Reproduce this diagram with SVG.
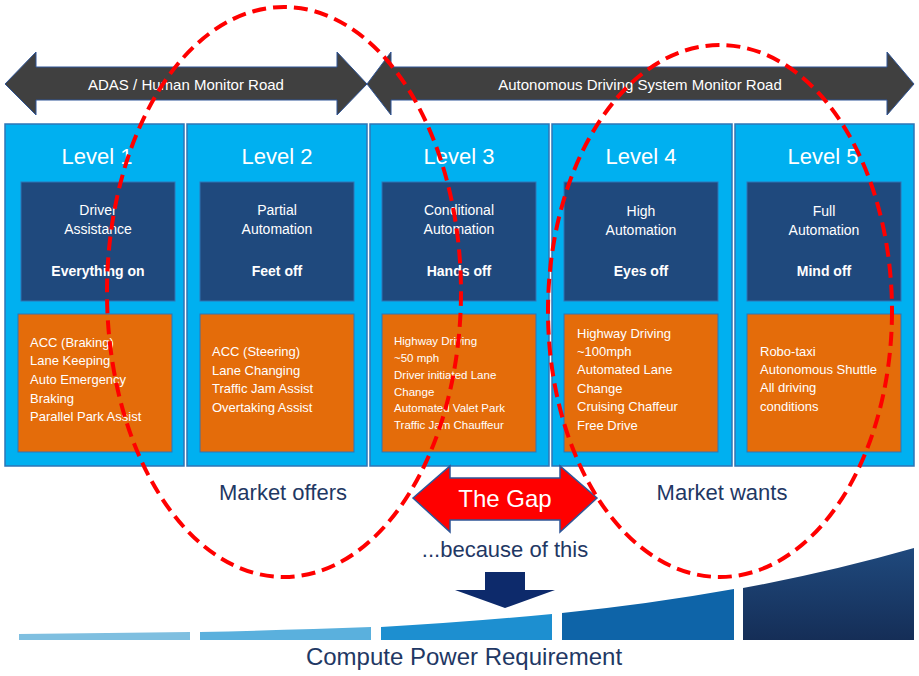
<svg xmlns="http://www.w3.org/2000/svg" width="919" height="676" viewBox="0 0 919 676">
<defs>
<style>
.col{fill:#00b0f0;stroke:#2e75b6;stroke-width:1.5}
.db{fill:#1f497d;stroke:#2e75b6;stroke-width:1}
.ob{fill:#e46c0a;stroke:#2e75b6;stroke-width:1}
.t{font-family:"Liberation Sans",Arial,sans-serif;fill:#fff}
.lv{font-size:22px;text-anchor:middle}
.dt{font-size:14px;text-anchor:middle}
.b{font-weight:bold}
.ot{font-size:13px}
.nv{font-family:"Liberation Sans",Arial,sans-serif;fill:#1f3864;text-anchor:middle}
.ell{fill:none;stroke:#ff0000;stroke-width:4;stroke-dasharray:14 7}
</style>
<linearGradient id="g5" x1="0" y1="0" x2="0" y2="1"><stop offset="0" stop-color="#1f497d"/><stop offset="1" stop-color="#152e57"/></linearGradient>
</defs>
<rect width="919" height="676" fill="#fff"/>
<g id="arrows-top">
<polygon points="5,84 36,52 36,67 337,67 337,52 367,84 337,115 337,100 36,100 36,115" fill="#404040" stroke="#2f5597" stroke-width="1"/>
<text class="t" x="186" y="90" font-size="15" text-anchor="middle">ADAS / Human Monitor Road</text>
<polygon points="367,84 391,52 391,67 887,67 887,52 914,84 887,115 887,100 391,100 391,115" fill="#404040" stroke="#2f5597" stroke-width="1"/>
<text class="t" x="640" y="90" font-size="15" text-anchor="middle">Autonomous Driving System Monitor Road</text>
</g>
<g id="level1">
<rect class="col" x="5" y="124" width="179" height="342"/>
<text class="t lv" x="97" y="164">Level 1</text>
<rect class="db" x="21" y="182" width="154" height="119"/>
<text class="t dt" x="98" y="215">Driver</text><text class="t dt" x="98" y="234">Assistance</text>
<text class="t dt b" x="98" y="276">Everything on</text>
<rect class="ob" x="18" y="314" width="154" height="138"/>
<text class="t ot" x="30" y="347">ACC (Braking)</text><text class="t ot" x="30" y="365">Lane Keeping</text><text class="t ot" x="30" y="384">Auto Emergency</text><text class="t ot" x="30" y="403">Braking</text><text class="t ot" x="30" y="421">Parallel Park Assist</text>
</g>
<g id="level2">
<rect class="col" x="187" y="124" width="180" height="342"/>
<text class="t lv" x="277" y="164">Level 2</text>
<rect class="db" x="200" y="182" width="154" height="119"/>
<text class="t dt" x="277" y="215">Partial</text><text class="t dt" x="277" y="234">Automation</text>
<text class="t dt b" x="277" y="276">Feet off</text>
<rect class="ob" x="200" y="314" width="154" height="138"/>
<text class="t ot" x="212" y="356">ACC (Steering)</text><text class="t ot" x="212" y="375">Lane Changing</text><text class="t ot" x="212" y="393">Traffic Jam Assist</text><text class="t ot" x="212" y="412">Overtaking Assist</text>
</g>
<g id="level3">
<rect class="col" x="370" y="124" width="179" height="342"/>
<text class="t lv" x="459" y="164">Level 3</text>
<rect class="db" x="382" y="182" width="154" height="119"/>
<text class="t dt" x="459" y="215">Conditional</text><text class="t dt" x="459" y="234">Automation</text>
<text class="t dt b" x="459" y="276">Hands off</text>
<rect class="ob" x="382" y="314" width="154" height="138"/>
<g class="t" font-size="11.5"><text x="394" y="345">Highway Driving</text><text x="394" y="362">~50 mph</text><text x="394" y="379">Driver initiated Lane</text><text x="394" y="396">Change</text><text x="394" y="412">Automated Valet Park</text><text x="394" y="429">Traffic Jam Chauffeur</text></g>
</g>
<g id="level4">
<rect class="col" x="552" y="124" width="180" height="342"/>
<text class="t lv" x="641" y="164">Level 4</text>
<rect class="db" x="564" y="182" width="154" height="119"/>
<text class="t dt" x="641" y="216">High</text><text class="t dt" x="641" y="235">Automation</text>
<text class="t dt b" x="641" y="276">Eyes off</text>
<rect class="ob" x="564" y="314" width="154" height="138"/>
<text class="t ot" x="577" y="338">Highway Driving</text><text class="t ot" x="577" y="356">~100mph</text><text class="t ot" x="577" y="374">Automated Lane</text><text class="t ot" x="577" y="393">Change</text><text class="t ot" x="577" y="411">Cruising Chaffeur</text><text class="t ot" x="577" y="430">Free Drive</text>
</g>
<g id="level5">
<rect class="col" x="735" y="124" width="179" height="342"/>
<text class="t lv" x="823" y="164">Level 5</text>
<rect class="db" x="747" y="182" width="154" height="119"/>
<text class="t dt" x="824" y="216">Full</text><text class="t dt" x="824" y="235">Automation</text>
<text class="t dt b" x="824" y="276">Mind off</text>
<rect class="ob" x="747" y="314" width="154" height="138"/>
<text class="t ot" x="760" y="356">Robo-taxi</text><text class="t ot" x="760" y="374">Autonomous Shuttle</text><text class="t ot" x="760" y="392">All driving</text><text class="t ot" x="760" y="411">conditions</text>
</g>
<g id="gap">
<polygon points="413,498 450,466 450,478 560,478 560,466 597,498 560,532 560,520 450,520 450,532" fill="#ff0000" stroke="#2f5597" stroke-width="1.5"/>
<text class="t" x="505" y="507" font-size="24" text-anchor="middle">The Gap</text>
</g>
<g id="labels">
<text class="nv" x="283" y="500" font-size="22">Market offers</text>
<text class="nv" x="722" y="500" font-size="22">Market wants</text>
<text class="nv" x="505" y="557" font-size="22">...because of this</text>
<text class="nv" x="464" y="665" font-size="24" fill="#0d2060">Compute Power Requirement</text>
</g>
<g id="compute">
<polygon points="455,590 485,590 485,572 525,572 525,590 555,590 505,608" fill="#0d2a6b"/>
<path d="M19,640 L19,634 Q110,633 190,632 L190,640 Z" fill="#7fbfe0"/>
<path d="M200,640 L200,632 Q290,630 371,627 L371,640 Z" fill="#5ab0dd"/>
<path d="M381,640 L381,627 Q470,622 552,614 L552,640 Z" fill="#1d8fd0"/>
<path d="M562,640 L562,613 Q650,604 734,589 L734,640 Z" fill="#0e64a8"/>
<path d="M743,640 L743,588 Q830,572 914,548 L914,640 Z" fill="url(#g5)"/>
</g>
<g id="ellipses">
<ellipse class="ell" cx="284" cy="292" rx="177" ry="285"/>
<ellipse class="ell" cx="720" cy="311" rx="172" ry="266"/>
</g>
</svg>
